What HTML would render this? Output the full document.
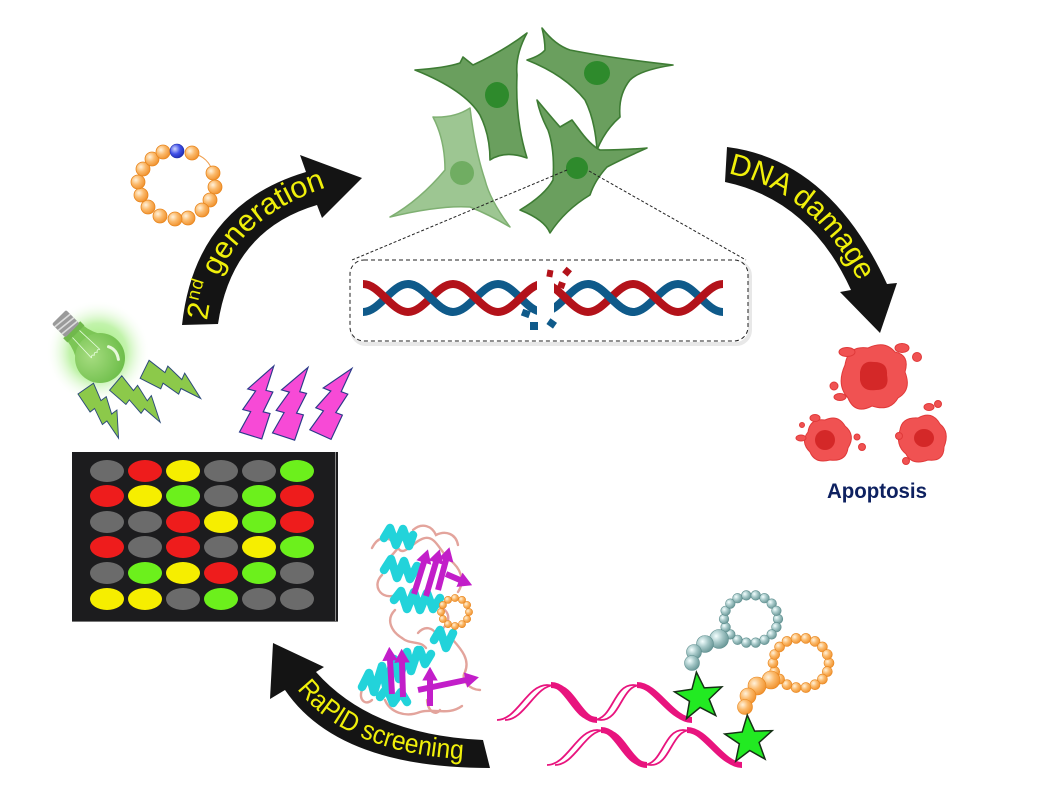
<!DOCTYPE html>
<html><head><meta charset="utf-8"><style>
html,body{margin:0;padding:0;background:#fff;}
svg{display:block;}
</style></head><body>
<svg width="1044" height="799" viewBox="0 0 1044 799" xmlns="http://www.w3.org/2000/svg">
<defs>
<radialGradient id="gO" cx="0.35" cy="0.35" r="0.75"><stop offset="0" stop-color="#fff2dc"/><stop offset="0.45" stop-color="#fbba6c"/><stop offset="1" stop-color="#ee8a22"/></radialGradient>
<radialGradient id="gT" cx="0.35" cy="0.35" r="0.75"><stop offset="0" stop-color="#f4ffff"/><stop offset="0.45" stop-color="#a6c8c8"/><stop offset="1" stop-color="#5f8f8f"/></radialGradient>
<radialGradient id="gB" cx="0.35" cy="0.35" r="0.75"><stop offset="0" stop-color="#d0d6ff"/><stop offset="0.5" stop-color="#4050e8"/><stop offset="1" stop-color="#1a28a8"/></radialGradient>
<radialGradient id="glow" cx="0.5" cy="0.5" r="0.5"><stop offset="0" stop-color="#8de860" stop-opacity="0.95"/><stop offset="0.55" stop-color="#a8ee88" stop-opacity="0.7"/><stop offset="1" stop-color="#ffffff" stop-opacity="0"/></radialGradient>
<radialGradient id="bulbG" cx="0.4" cy="0.35" r="0.7"><stop offset="0" stop-color="#a6dc80"/><stop offset="1" stop-color="#6cbd48"/></radialGradient>
<marker id="ah" markerWidth="2.3" markerHeight="2.6" refX="0.1" refY="1.3" orient="auto" markerUnits="strokeWidth"><path d="M0,0 L2.3,1.3 L0,2.6 z" fill="#c21ec9"/></marker>
<path id="p1" d="M207,322 Q219,215 345,182"/>
<path id="p2" d="M726,173 Q815,190 862,288"/>
<path id="p3" d="M294,685 Q348,759 488,760"/>
<path id="bolt" d="M-11,0 L9,-2 L7,18 L14,17 L10,36 L17,35 L4,62 L2,40 L-4,41 L-3,22 L-9,23 Z"/>
<path id="star" d="M0,-25 L6.2,-8.5 L23.8,-7.7 L9.9,3.2 L14.7,20.2 L0,10.5 L-14.7,20.2 L-9.9,3.2 L-23.8,-7.7 L-6.2,-8.5 Z"/>
</defs>

<!-- ===== cells ===== -->
<g stroke-linejoin="round">
<path d="M470,108 Q455,118 433,117 Q445,140 445,170 Q420,200 390,217 Q440,205 470,207 Q490,215 510,227 Q490,200 485,180 Q475,150 470,108 Z" fill="#9dc692" stroke="#7fb072" stroke-width="1.5"/>
<ellipse cx="462" cy="173" rx="12" ry="12" fill="#70ad62"/>
<path d="M415,70 Q445,68 460,63 L463,57 L473,65 Q505,50 527,33 Q515,55 517,75 Q515,120 527,158 Q505,150 490,160 Q490,135 480,115 Q465,90 415,70 Z" fill="#6a9f5e" stroke="#3e7c34" stroke-width="1.6"/>
<ellipse cx="497" cy="95" rx="12" ry="13" fill="#2e8a2c"/>
<path d="M542,28 Q555,45 570,50 Q610,58 673,65 Q640,70 630,80 Q618,95 620,117 Q605,130 597,150 Q595,120 585,100 Q565,75 527,60 Q540,56 545,50 Q545,40 542,28 Z" fill="#6a9f5e" stroke="#3e7c34" stroke-width="1.6"/>
<ellipse cx="597" cy="73" rx="13" ry="12" fill="#2e8a2c"/>
<path d="M537,100 Q552,118 560,127 L572,120 L578,128 Q590,145 600,150 Q625,150 647,148 Q620,160 607,167 Q595,180 590,195 Q565,210 550,233 Q545,220 520,210 Q545,195 553,180 Q555,150 548,130 Q540,115 537,100 Z" fill="#6a9f5e" stroke="#3e7c34" stroke-width="1.6"/>
<ellipse cx="577" cy="168" rx="11" ry="11" fill="#2e8a2c"/>
</g>

<!-- dashed connectors & box -->
<line x1="567" y1="170" x2="352" y2="260" stroke="#222" stroke-width="1" stroke-dasharray="3,2"/>
<line x1="589" y1="171" x2="746" y2="260" stroke="#222" stroke-width="1" stroke-dasharray="3,2"/>
<rect x="352" y="262" width="398" height="82" rx="14" fill="none" stroke="#e8e8e8" stroke-width="4"/>
<rect x="350" y="260" width="398" height="81" rx="14" fill="#fff" stroke="#222" stroke-width="1" stroke-dasharray="4,3"/>

<!-- DNA helix -->
<g fill="none" stroke-width="8">
<path d="M363,312 C379.4,312 391.6,284 408,284 C424.4,284 436.6,312 453,312 C469.4,312 481.6,284 498,284 C514.4,284 526.6,312 543,312 C559.4,312 571.6,284 588,284 C604.4,284 616.6,312 633,312 C649.4,312 661.6,284 678,284 C694.4,284 706.6,312 723,312" stroke="#0f5a8a"/>
<path d="M363,284 C379.4,284 391.6,312 408,312 C424.4,312 436.6,284 453,284 C469.4,284 481.6,312 498,312 C514.4,312 526.6,284 543,284 C559.4,284 571.6,312 588,312 C604.4,312 616.6,284 633,284 C649.4,284 661.6,312 678,312 C694.4,312 706.6,284 723,284" stroke="#b3121a"/>
<path d="M408,284 C424.4,284 436.6,312 453,312 M588,284 C604.4,284 616.6,312 633,312" stroke="#0f5a8a"/>
</g>
<rect x="537" y="276" width="17" height="44" fill="#fff"/>
<g fill="#b3121a">
<rect x="547" y="270" width="6" height="7" transform="rotate(10 550 273)"/>
<rect x="564" y="268" width="7" height="7" transform="rotate(40 567 271)"/>
<rect x="558" y="282" width="7" height="6" transform="rotate(20 561 285)"/>
</g>
<g fill="#0f5a8a">
<rect x="522" y="310" width="8" height="7" transform="rotate(20 526 313)"/>
<rect x="530" y="322" width="8" height="8"/>
<rect x="548" y="320" width="8" height="7" transform="rotate(35 552 323)"/>
</g>

<!-- ===== top-left macrocycle ===== -->
<path d="M192,153 Q209,157 213,173" fill="none" stroke="#f0a050" stroke-width="1"/>
<g fill="url(#gO)" stroke="#e8861e" stroke-width="0.8">
<circle cx="192" cy="153" r="7"/><circle cx="213" cy="173" r="7"/><circle cx="215" cy="187" r="7"/><circle cx="210" cy="200" r="7"/><circle cx="202" cy="210" r="7"/><circle cx="188" cy="218" r="7"/><circle cx="175" cy="219" r="7"/><circle cx="160" cy="216" r="7"/><circle cx="148" cy="207" r="7"/><circle cx="141" cy="195" r="7"/><circle cx="138" cy="182" r="7"/><circle cx="143" cy="169" r="7"/><circle cx="152" cy="159" r="7"/><circle cx="163" cy="152" r="7"/>
</g>
<circle cx="177" cy="151" r="7" fill="url(#gB)" stroke="#1a28a8" stroke-width="0.6"/>

<!-- ===== arrows ===== -->
<path d="M182,325 Q195,205 306,172 L300,155 L362,178 L322,218 L317,205 Q232,230 218,324 Z" fill="#141414"/>
<path d="M727,147 Q830,160 887,284 L897,283 L880,333 L840,292 L851,290 Q810,200 725,182 Z" fill="#141414"/>
<path d="M490,768 Q338,768 285,690 L270,699 L273,643 L324,667 L316,672 Q372,735 483,740 Z" fill="#141414"/>

<g font-family="Liberation Sans, DejaVu Sans, sans-serif" fill="#f0f00a">
<text font-size="30"><textPath href="#p1" startOffset="1" textLength="190" lengthAdjust="spacingAndGlyphs">2<tspan font-size="18" dy="-12">nd</tspan><tspan dy="12"> generation</tspan></textPath></text>
<text font-size="30"><textPath href="#p2" startOffset="2" textLength="176" lengthAdjust="spacingAndGlyphs">DNA damage</textPath></text>
<text font-size="27"><textPath href="#p3" startOffset="5" textLength="186" lengthAdjust="spacingAndGlyphs">RaPID screening</textPath></text>
</g>

<!-- ===== apoptosis ===== -->
<g fill="#f05252" stroke="#e03a3a" stroke-width="1">
<path d="M845,365 Q848,345 868,348 Q885,340 895,352 Q910,355 905,372 Q912,390 898,398 Q890,412 872,406 Q855,415 848,398 Q836,385 845,365 Z"/>
<path d="M808,432 Q810,418 825,420 Q838,414 845,426 Q856,435 848,448 Q846,462 830,460 Q815,464 810,452 Q800,442 808,432 Z"/>
<path d="M900,430 Q902,417 918,418 Q932,410 940,424 Q950,432 944,447 Q944,462 928,460 Q912,466 906,454 Q895,445 900,430 Z"/>
<ellipse cx="847" cy="352" rx="8" ry="4.5"/><ellipse cx="902" cy="348" rx="7" ry="4.5"/><circle cx="917" cy="357" r="4.5"/>
<circle cx="834" cy="386" r="4"/><ellipse cx="840" cy="397" rx="6" ry="3.5"/><ellipse cx="815" cy="418" rx="5" ry="3.5"/>
<ellipse cx="801" cy="438" rx="5" ry="3"/><circle cx="862" cy="447" r="3.5"/><circle cx="857" cy="437" r="3"/>
<ellipse cx="929" cy="407" rx="5" ry="3.5"/><circle cx="938" cy="404" r="3.5"/><circle cx="899" cy="436" r="3.5"/><circle cx="906" cy="461" r="3.5"/><circle cx="802" cy="425" r="2.5"/>
</g>
<g fill="#d42828">
<path d="M860,372 Q862,360 874,362 Q888,362 887,375 Q890,390 876,390 Q862,392 860,380 Z"/>
<ellipse cx="825" cy="440" rx="10" ry="10"/>
<ellipse cx="924" cy="438" rx="10" ry="9"/>
</g>
<text x="827" y="498" font-family="Liberation Sans, sans-serif" font-weight="bold" font-size="21" fill="#0e2160" textLength="100" lengthAdjust="spacingAndGlyphs">Apoptosis</text>

<!-- ===== lightbulb ===== -->
<circle cx="98" cy="352" r="52" fill="url(#glow)"/>
<g transform="translate(100,358) rotate(-45)">
<path d="M-20,-12 Q-12,-24 -11,-36 L11,-36 Q12,-24 20,-12 Z" fill="#7cc656"/>
<circle cx="0" cy="0" r="25" fill="url(#bulbG)"/>
<rect x="-12" y="-40" width="24" height="6" fill="#70b84c"/>
<rect x="-10" y="-58" width="20" height="19" rx="2" fill="#9a9a9a"/>
<g stroke="#dcdcdc" stroke-width="1.6"><line x1="-10" y1="-54" x2="10" y2="-52"/><line x1="-10" y1="-49" x2="10" y2="-47"/><line x1="-10" y1="-44" x2="10" y2="-42"/></g>
<g stroke="#e8ffe0" stroke-width="0.8" fill="none"><path d="M-5,-34 L-6,-6 M5,-34 L6,-6 M-6,-6 q2,-3 4,0 q2,-3 4,0 q2,-3 4,0"/></g>
<path d="M14,-2 Q18,6 12,14" stroke="#e6f8da" stroke-width="3" fill="none" stroke-linecap="round"/>
</g>

<!-- green bolts -->
<g fill="#8cc94a" stroke="#2c4a7a" stroke-width="1">
<use href="#bolt" transform="translate(87,389) rotate(-29) scale(0.94)"/>
<use href="#bolt" transform="translate(117,383) rotate(-44) scale(0.94)"/>
<use href="#bolt" transform="translate(146,369) rotate(-58) scale(1)"/>
</g>
<!-- pink bolts -->
<g fill="#f74ad6" stroke="#2c3a8a" stroke-width="1">
<use href="#bolt" transform="translate(250,434) rotate(-157) scale(1.16)"/>
<use href="#bolt" transform="translate(283,435) rotate(-156) scale(1.16)"/>
<use href="#bolt" transform="translate(320,433) rotate(-150) scale(1.16)"/>
</g>

<!-- ===== microarray ===== -->
<rect x="72" y="452" width="266" height="170" fill="#1c1c1e"/>
<line x1="335.5" y1="452" x2="335.5" y2="622" stroke="#8a8a8a" stroke-width="1"/>
<line x1="72" y1="621.5" x2="338" y2="621.5" stroke="#777" stroke-width="1"/>
<g>
<ellipse cx="107" cy="471" rx="17" ry="11" fill="#6b6b6b"/><ellipse cx="145" cy="471" rx="17" ry="11" fill="#ee1c1c"/><ellipse cx="183" cy="471" rx="17" ry="11" fill="#f6ee00"/><ellipse cx="221" cy="471" rx="17" ry="11" fill="#6b6b6b"/><ellipse cx="259" cy="471" rx="17" ry="11" fill="#6b6b6b"/><ellipse cx="297" cy="471" rx="17" ry="11" fill="#6cf01c"/>
<ellipse cx="107" cy="496" rx="17" ry="11" fill="#ee1c1c"/><ellipse cx="145" cy="496" rx="17" ry="11" fill="#f6ee00"/><ellipse cx="183" cy="496" rx="17" ry="11" fill="#6cf01c"/><ellipse cx="221" cy="496" rx="17" ry="11" fill="#6b6b6b"/><ellipse cx="259" cy="496" rx="17" ry="11" fill="#6cf01c"/><ellipse cx="297" cy="496" rx="17" ry="11" fill="#ee1c1c"/>
<ellipse cx="107" cy="522" rx="17" ry="11" fill="#6b6b6b"/><ellipse cx="145" cy="522" rx="17" ry="11" fill="#6b6b6b"/><ellipse cx="183" cy="522" rx="17" ry="11" fill="#ee1c1c"/><ellipse cx="221" cy="522" rx="17" ry="11" fill="#f6ee00"/><ellipse cx="259" cy="522" rx="17" ry="11" fill="#6cf01c"/><ellipse cx="297" cy="522" rx="17" ry="11" fill="#ee1c1c"/>
<ellipse cx="107" cy="547" rx="17" ry="11" fill="#ee1c1c"/><ellipse cx="145" cy="547" rx="17" ry="11" fill="#6b6b6b"/><ellipse cx="183" cy="547" rx="17" ry="11" fill="#ee1c1c"/><ellipse cx="221" cy="547" rx="17" ry="11" fill="#6b6b6b"/><ellipse cx="259" cy="547" rx="17" ry="11" fill="#f6ee00"/><ellipse cx="297" cy="547" rx="17" ry="11" fill="#6cf01c"/>
<ellipse cx="107" cy="573" rx="17" ry="11" fill="#6b6b6b"/><ellipse cx="145" cy="573" rx="17" ry="11" fill="#6cf01c"/><ellipse cx="183" cy="573" rx="17" ry="11" fill="#f6ee00"/><ellipse cx="221" cy="573" rx="17" ry="11" fill="#ee1c1c"/><ellipse cx="259" cy="573" rx="17" ry="11" fill="#6cf01c"/><ellipse cx="297" cy="573" rx="17" ry="11" fill="#6b6b6b"/>
<ellipse cx="107" cy="599" rx="17" ry="11" fill="#f6ee00"/><ellipse cx="145" cy="599" rx="17" ry="11" fill="#f6ee00"/><ellipse cx="183" cy="599" rx="17" ry="11" fill="#6b6b6b"/><ellipse cx="221" cy="599" rx="17" ry="11" fill="#6cf01c"/><ellipse cx="259" cy="599" rx="17" ry="11" fill="#6b6b6b"/><ellipse cx="297" cy="599" rx="17" ry="11" fill="#6b6b6b"/>
</g>

<!-- ===== protein ===== -->
<g fill="none" stroke="#e3a49c" stroke-width="2.4" stroke-linecap="round">
<path d="M372,548 C380,532 392,538 398,548 C404,558 414,540 425,538 C436,536 440,552 450,560 C460,568 466,580 458,592"/>
<path d="M382,575 C372,585 380,598 392,596"/>
<path d="M398,548 C392,556 386,560 385,565"/>
<path d="M440,607 C452,612 450,625 440,630"/>
<path d="M395,610 C385,620 392,632 402,638"/>
<path d="M453,640 C462,650 470,660 465,672 C460,680 470,690 480,690"/>
<path d="M385,700 C390,712 405,718 420,712 C435,708 448,716 462,706"/>
<path d="M362,690 C358,700 366,706 372,700"/>
<path d="M418,633 C425,625 433,628 436,634"/>
<path d="M413,530 C422,522 432,526 436,535 C446,530 456,534 458,545"/>
<path d="M427,700 C428,712 436,716 440,710"/>
<path d="M402,638 C410,645 420,640 426,648"/>
</g>
<g fill="none" stroke="#22d3da" stroke-width="8.5" stroke-linejoin="round" stroke-linecap="round">
<path d="M384,538 L390,528 L396,545 L403,529 L409,546 L413,535"/>
<path d="M384,570 L391,559 L397,578 L404,561 L410,579 L417,566"/>
<path d="M394,600 L401,591 L407,609 L414,592 L420,610 L427,593 L433,609 L440,598"/>
<path d="M434,640 L440,630 L446,648 L453,633"/>
<path d="M362,687 L369,673 L374,692 L382,666 L386,686 L394,659 L399,679 L407,652 L411,671 L418,650"/>
<path d="M380,697 L387,688 L393,703 L401,692 L407,702"/>
<path d="M414,660 L420,650 L425,664 L431,654"/>
</g>
<g fill="none" stroke="#c21ec9" stroke-width="6" marker-end="url(#ah)">
<path d="M414,594 L424,562"/>
<path d="M426,596 L436,562"/>
<path d="M438,590 L446,560"/>
<path d="M446,574 L460,580"/>
<path d="M392,694 L390,660"/>
<path d="M403,697 L402,662"/>
<path d="M430,706 L430,680"/>
<path d="M418,690 L466,680"/>
</g>
<g fill="url(#gO)" stroke="#e8861e" stroke-width="0.6">
<circle cx="469" cy="612" r="3.6"/><circle cx="467.1" cy="619" r="3.6"/><circle cx="462" cy="624.1" r="3.6"/><circle cx="455" cy="626" r="3.6"/><circle cx="448" cy="624.1" r="3.6"/><circle cx="442.9" cy="619" r="3.6"/><circle cx="441" cy="612" r="3.6"/><circle cx="442.9" cy="605" r="3.6"/><circle cx="448" cy="599.9" r="3.6"/><circle cx="455" cy="598" r="3.6"/><circle cx="462" cy="599.9" r="3.6"/><circle cx="467.1" cy="605" r="3.6"/>
</g>

<!-- ===== bottom-right: mRNA ribbons, stars, macrocycles ===== -->
<g fill="none" stroke="#e8147e">
<g>
<path d="M497,720 C517,720 527,685 547,685 C567,685 573,720 593,720 C613,720 613,685 633,685 C653,685 668,720 688,720" stroke-width="1.8"/>
<path d="M505,720 C525,720 535,685 555,685 C575,685 581,720 601,720 C621,720 621,685 641,685" stroke-width="1.8"/>
<path d="M551,685 C571,685 577,720 597,720 M637,685 C657,685 672,720 692,720" stroke-width="6"/>
</g>
<g transform="translate(50,45)">
<path d="M497,720 C517,720 527,685 547,685 C567,685 573,720 593,720 C613,720 613,685 633,685 C653,685 668,720 688,720" stroke-width="1.8"/>
<path d="M505,720 C525,720 535,685 555,685 C575,685 581,720 601,720 C621,720 621,685 641,685" stroke-width="1.8"/>
<path d="M551,685 C571,685 577,720 597,720 M637,685 C657,685 672,720 692,720" stroke-width="6"/>
</g>
</g>

<g fill="url(#gT)" stroke="#5f8f8f" stroke-width="0.6">
<circle cx="778" cy="619" r="4.8"/><circle cx="776.4" cy="627.2" r="4.8"/><circle cx="771.7" cy="634.4" r="4.8"/><circle cx="764.5" cy="639.8" r="4.8"/><circle cx="755.7" cy="642.6" r="4.8"/><circle cx="746.3" cy="642.6" r="4.8"/><circle cx="737.5" cy="639.8" r="4.8"/><circle cx="730.3" cy="634.4" r="4.8"/><circle cx="725.6" cy="627.2" r="4.8"/><circle cx="724" cy="619" r="4.8"/><circle cx="725.6" cy="610.8" r="4.8"/><circle cx="730.3" cy="603.6" r="4.8"/><circle cx="737.5" cy="598.2" r="4.8"/><circle cx="746.3" cy="595.4" r="4.8"/><circle cx="755.7" cy="595.4" r="4.8"/><circle cx="764.5" cy="598.2" r="4.8"/><circle cx="771.7" cy="603.6" r="4.8"/><circle cx="776.4" cy="610.8" r="4.8"/>
<circle cx="719" cy="639" r="9.5"/><circle cx="705" cy="644" r="8.5"/><circle cx="694" cy="652" r="7.5"/><circle cx="692" cy="663" r="7.5"/>
</g>
<g fill="url(#gO)" stroke="#e8861e" stroke-width="0.6">
<circle cx="829" cy="663" r="5"/><circle cx="827.3" cy="671.6" r="5"/><circle cx="822.4" cy="679.1" r="5"/><circle cx="815" cy="684.7" r="5"/><circle cx="805.9" cy="687.6" r="5"/><circle cx="796.1" cy="687.6" r="5"/><circle cx="787" cy="684.7" r="5"/><circle cx="779.6" cy="679.1" r="5"/><circle cx="774.7" cy="671.6" r="5"/><circle cx="773" cy="663" r="5"/><circle cx="774.7" cy="654.5" r="5"/><circle cx="779.6" cy="646.9" r="5"/><circle cx="787" cy="641.4" r="5"/><circle cx="796.1" cy="638.4" r="5"/><circle cx="805.9" cy="638.4" r="5"/><circle cx="815" cy="641.4" r="5"/><circle cx="822.4" cy="646.9" r="5"/><circle cx="827.3" cy="654.5" r="5"/>
<circle cx="771" cy="680" r="9"/><circle cx="757" cy="686" r="9"/><circle cx="748" cy="696" r="8"/><circle cx="745" cy="707" r="7.5"/>
</g>
<g fill="#22ea22" stroke="#153015" stroke-width="1.5" stroke-linejoin="miter">
<use href="#star" transform="translate(699,697) rotate(-6)"/>
<use href="#star" transform="translate(749,740) rotate(-4)"/>
</g>
</svg>
</body></html>
